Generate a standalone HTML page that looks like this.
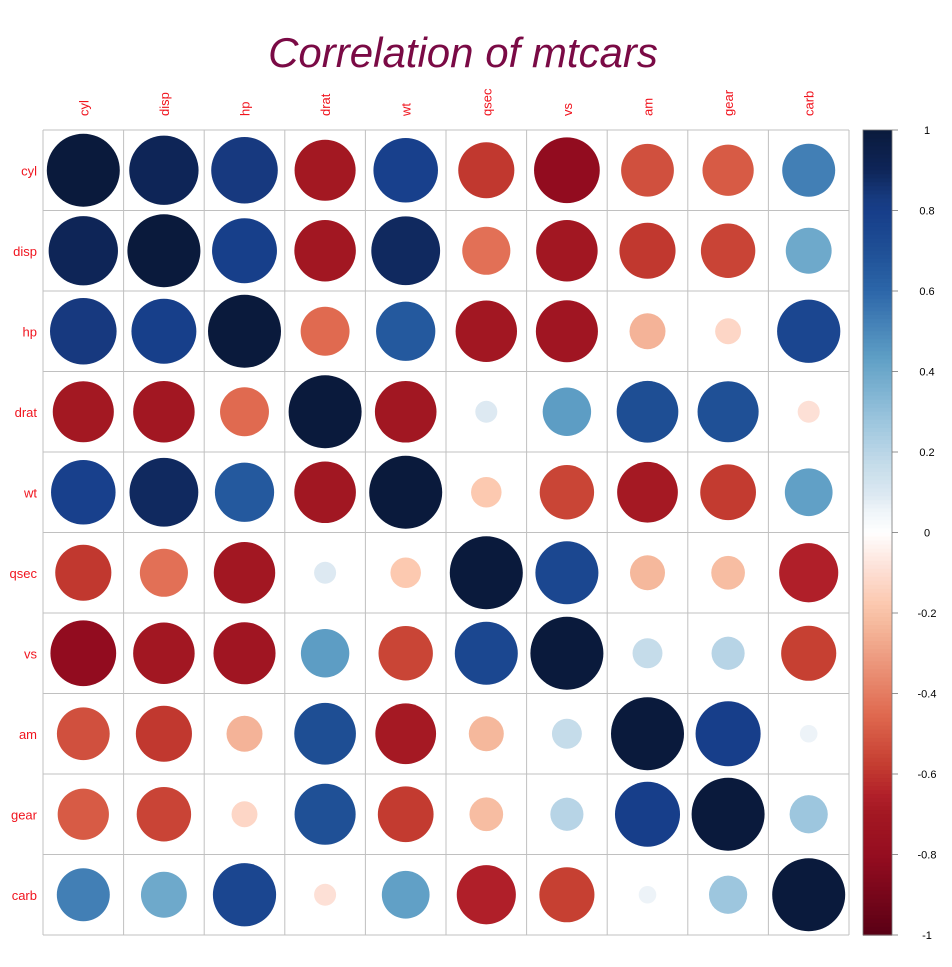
<!DOCTYPE html>
<html><head><meta charset="utf-8"><style>
body{margin:0;background:#fff;width:952px;height:962px;overflow:hidden}
</style></head><body>
<svg id="s" width="952" height="962" xmlns="http://www.w3.org/2000/svg" font-family="Liberation Sans, sans-serif">
<text x="463" y="67" text-anchor="middle" font-size="42" font-style="italic" fill="#7a0a45">Correlation of mtcars</text>
</svg>
<script>
var names=["cyl","disp","hp","drat","wt","qsec","vs","am","gear","carb"];
var M=[
[1,.902,.832,-.700,.782,-.591,-.811,-.523,-.493,.527],
[.902,1,.791,-.710,.888,-.434,-.710,-.591,-.556,.395],
[.832,.791,1,-.449,.659,-.708,-.723,-.243,-.126,.750],
[-.700,-.710,-.449,1,-.712,.091,.440,.713,.700,-.091],
[.782,.888,.659,-.712,1,-.175,-.555,-.692,-.583,.428],
[-.591,-.434,-.708,.091,-.175,1,.745,-.230,-.213,-.656],
[-.811,-.710,-.723,.440,-.555,.745,1,.168,.206,-.570],
[-.523,-.591,-.243,.713,-.692,-.230,.168,1,.794,.058],
[-.493,-.556,-.126,.700,-.583,-.213,.206,.794,1,.274],
[.527,.395,.750,-.091,.428,-.656,-.570,.058,.274,1]];
var A=[[-1,"#5a0015"],[-0.8,"#950d20"],[-0.7,"#a31822"],[-0.656,"#b01f29"],[-0.58,"#c43c30"],[-0.45,"#e06a50"],
[-0.23,"#f5b89c"],[-0.175,"#fcc9b0"],[-0.091,"#fde0d6"],[0,"#ffffff"],[0.058,"#edf3f8"],[0.091,"#dde9f2"],
[0.168,"#c5dcea"],[0.274,"#9dc6de"],[0.43,"#60a0c6"],[0.6,"#2c66a9"],[0.7,"#1f5096"],[0.794,"#173e8a"],
[0.83,"#173a80"],[0.9,"#0e2558"],[1,"#0a1a3c"]];
function hx(h){return [parseInt(h.substr(1,2),16),parseInt(h.substr(3,2),16),parseInt(h.substr(5,2),16)];}
function col(r){for(var i=0;i<A.length-1;i++){if(r<=A[i+1][0]){var f=(r-A[i][0])/(A[i+1][0]-A[i][0]);var a=hx(A[i][1]),b=hx(A[i+1][1]);
return "rgb("+a.map(function(v,k){return Math.round(v+(b[k]-v)*f)}).join(",")+")";}}return A[A.length-1][1];}
var s=document.getElementById("s"),h="";
var x0=43,y0=130,W=80.6,H=80.5;
for(var i=0;i<10;i++){for(var j=0;j<10;j++){
var cx=x0+W*(j+.5),cy=y0+H*(i+.5),r=Math.sqrt(Math.abs(M[i][j]))*36.5;
h+='<circle cx="'+cx+'" cy="'+cy+'" r="'+r+'" fill="'+col(M[i][j])+'"/>';}}
for(var k=0;k<=10;k++){
h+='<line x1="'+(x0+W*k)+'" y1="'+y0+'" x2="'+(x0+W*k)+'" y2="'+(y0+H*10)+'" stroke="#c0c0c0" stroke-width="1"/>';
h+='<line x1="'+x0+'" y1="'+(y0+H*k)+'" x2="'+(x0+W*10)+'" y2="'+(y0+H*k)+'" stroke="#c0c0c0" stroke-width="1"/>';}
for(var k=0;k<10;k++){
var cx=x0+W*(k+.5);
h+='<text transform="translate('+(cx+5)+',116) rotate(-90)" font-size="13" fill="#f0141e">'+names[k]+'</text>';
h+='<text x="37" y="'+(y0+H*(k+.5)+5)+'" text-anchor="end" font-size="13" fill="#f0141e">'+names[k]+'</text>';}
var cb0=130,cb1=935,n=200;
for(var k=0;k<n;k++){var v=1-2*(k+.5)/n;var y=cb0+(cb1-cb0)*k/n;
h+='<rect x="863" y="'+y+'" width="29" height="'+((cb1-cb0)/n+0.6)+'" fill="'+col(v)+'"/>';}
h+='<rect x="863" y="130" width="29" height="805" fill="none" stroke="#777" stroke-width="0.8"/>';
var labs=["1","0.8","0.6","0.4","0.2","0","-0.2","-0.4","-0.6","-0.8","-1"];
for(var k=0;k<=10;k++){var y=cb0+(cb1-cb0)*k/10;
h+='<line x1="892" y1="'+y+'" x2="898" y2="'+y+'" stroke="#777" stroke-width="0.8"/>';
h+='<text x="927" y="'+(y+4)+'" text-anchor="middle" font-size="11" fill="#000">'+labs[k]+'</text>';}
s.insertAdjacentHTML("beforeend",h);
</script>
</body></html>
